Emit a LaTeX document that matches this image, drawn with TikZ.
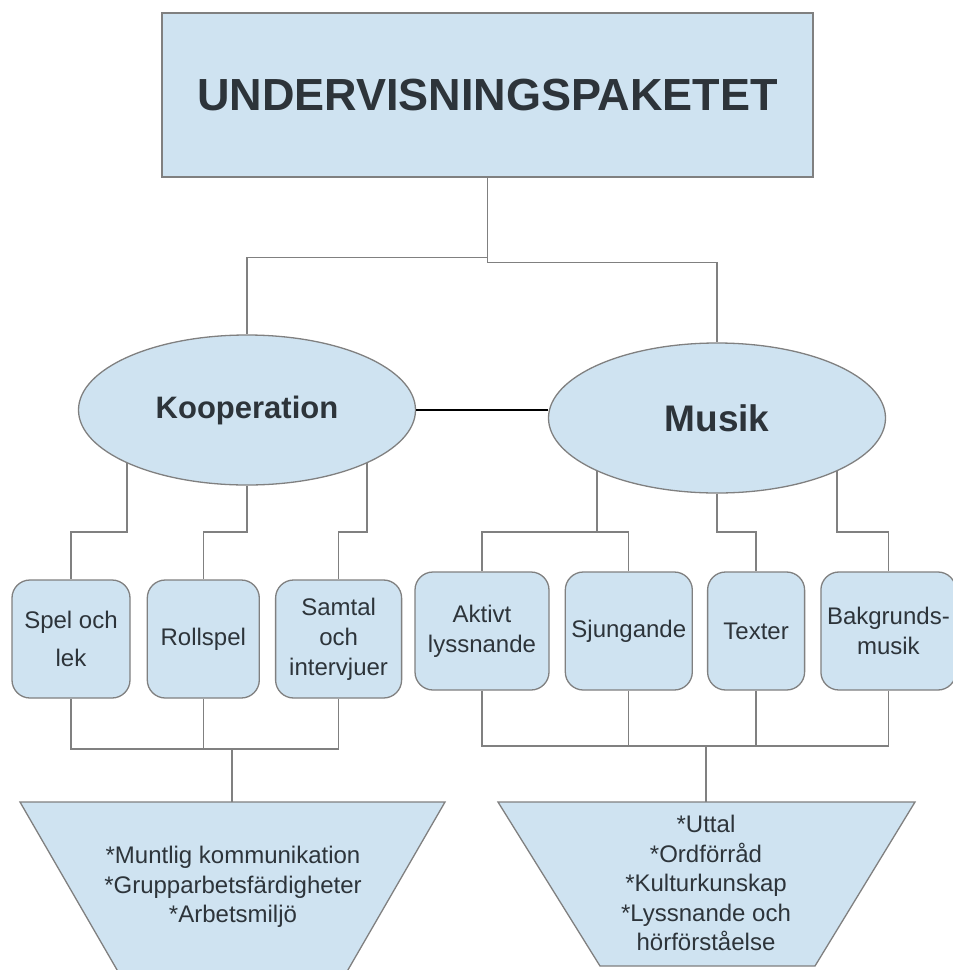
\documentclass[tikz,border=0pt]{standalone}
\usepackage{fontspec}
\setmainfont{Liberation Sans}
\usetikzlibrary{shapes.geometric,positioning}
\definecolor{paleblue}{RGB}{207,227,241}
\definecolor{linegray}{RGB}{128,128,128}
\definecolor{inkgray}{RGB}{45,52,58}

\tikzset{
  head/.style={draw=linegray, line width=1.3pt, fill=paleblue, minimum width=651pt, minimum height=164pt, inner sep=0pt, text=inkgray, font=\fontsize{45}{54}\selectfont\bfseries},
  topic/.style={ellipse, draw=linegray, line width=1.3pt, fill=paleblue, minimum width=337pt, minimum height=150pt, inner sep=0pt, text=inkgray},
  activity/.style={draw=linegray, line width=1.3pt, fill=paleblue, rounded corners=18pt, minimum height=118pt, inner sep=0pt, align=center, text=inkgray, font=\fontsize{24}{30}\selectfont},
  goal/.style={align=center, text=inkgray, font=\fontsize{24}{29.5}\selectfont},
  link/.style={draw=linegray, line width=1.3pt},
}

\begin{document}
\begin{tikzpicture}[x=1pt,y=-1pt,node distance=15pt]
  \clip (0,0) rectangle (953,970);
  \fill[white] (0,0) rectangle (953,970);
  \draw[link, fill=paleblue] (20,802) -- (445,802) -- (345,975) -- (120,975) -- cycle;
  \draw[link, fill=paleblue] (498,802) -- (915,802) -- (815,966) -- (600,966) -- cycle;
  \coordinate (ktop) at (232,802);
  \coordinate (mtop) at (706,802);
  \node[goal] (kgoal) at (233,887) {*Muntlig kommunikation\\*Grupparbetsfärdigheter\\*Arbetsmiljö};
  \node[goal] (mgoal) at (706,883) {*Uttal\\*Ordförråd\\*Kulturkunskap\\*Lyssnande och\\hörförståelse};

  \node[head] (paket) at (487.5,95) {UNDERVISNINGSPAKETET};
  \node[topic, font=\fontsize{31}{36}\selectfont\bfseries] (koop) at (247,410) {Kooperation};
  \node[topic, font=\fontsize{37}{42}\selectfont\bfseries] (musik) at (717,418) {Musik};

  \node[activity, minimum width=118pt] (spel) at (71,639) {Spel och\\[8pt]lek};
  \node[activity, minimum width=112pt] (roll) [right = 16pt of spel] {Rollspel};
  \node[activity, minimum width=126pt] (samtal) [right = of roll] {Samtal\\och\\intervjuer};
  \node[activity, minimum width=134pt] (aktivt) at (482,631) {Aktivt\\lyssnande};
  \node[activity, minimum width=127pt] (sjung) [right = of aktivt] {Sjungande};
  \node[activity, minimum width=97pt] (texter) [right = 14pt of sjung] {Texter};
  \node[activity, minimum width=135pt] (bakgr) [right = of texter] {Bakgrunds-\\musik};

  \draw[link] (paket.south) -- ++(0,80) -| (koop.north);
  \draw[link] (paket.south) -- ++(0,85) -| (musik.north);
  \draw[black, line width=1.2pt] (koop.east) -- (koop.east -| musik.west);

  \coordinate (bus) at (0,532);
  \draw[link] (koop.-156) -- (koop.-156 |- bus) -| (spel.north);
  \draw[link] (koop.south) -- (koop.south |- bus) -| (roll.north);
  \draw[link] (koop.-24) -- (koop.-24 |- bus) -| (samtal.north);
  \draw[link] (musik.-156) -- (musik.-156 |- bus) -| (aktivt.north);
  \draw[link] (musik.-156 |- bus) -| (sjung.north);
  \draw[link] (musik.south) -- (musik.south |- bus) -| (texter.north);
  \draw[link] (musik.-24) -- (musik.-24 |- bus) -| (bakgr.north);

  \coordinate (kjoin) at (232,749);
  \coordinate (mjoin) at (706,746);
  \draw[link] (spel.south) |- (kjoin);
  \draw[link] (samtal.south) |- (kjoin);
  \draw[link] (roll.south) -- (roll.south |- kjoin);
  \draw[link] (kjoin) -- (ktop);
  \draw[link] (aktivt.south) |- (mjoin);
  \draw[link] (bakgr.south) |- (mjoin);
  \draw[link] (sjung.south) -- (sjung.south |- mjoin);
  \draw[link] (texter.south) -- (texter.south |- mjoin);
  \draw[link] (mjoin) -- (mtop);
\end{tikzpicture}
\end{document}
